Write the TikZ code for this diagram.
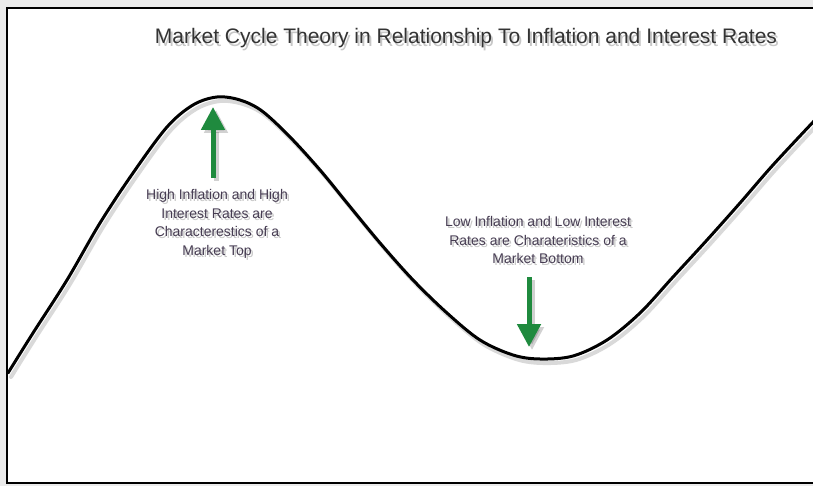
\documentclass[tikz,border=0pt]{standalone}
\usepackage{fontspec}
\setmainfont{Liberation Sans}
\usetikzlibrary{arrows.meta}
\definecolor{bggray}{HTML}{EBEBEB}
\definecolor{labelcol}{HTML}{463C52}
\definecolor{titlecol}{HTML}{333333}
\definecolor{arrowgreen}{HTML}{1F8A3E}
\begin{document}
\begin{tikzpicture}[x=1pt,y=-1pt,
  lbl/.style={align=center, font=\fontsize{14}{18.5}\selectfont, text=labelcol, inner sep=0pt},
  lblshadow/.style={lbl, text=black, opacity=0.22},
  ttl/.style={font=\fontsize{21}{25}\selectfont, text=titlecol, inner sep=0pt},
  ttlshadow/.style={ttl, text=black, opacity=0.22},
  greenarrow/.style={draw=arrowgreen, line width=5pt, -{Triangle[width=23pt,length=23pt,fill=arrowgreen]}},
  arrowshadow/.style={draw=black, opacity=0.18, line width=5pt, -{Triangle[width=23pt,length=23pt]}},
  curve/.style={line width=3pt, line join=round, line cap=round},
  curveshadow/.style={line width=4pt, draw=black, opacity=0.15, line cap=round},
  frameline/.style={line width=2.6pt, draw=black}
]
\useasboundingbox (0,0) rectangle (813,486);
\fill[bggray] (0,0) rectangle (813,486);
\fill[white] (7,8) rectangle (813,483);

\def\curvepts{(8,373) (33,333) (67,280) (100,223) (133,173) (167,127) (193,105) (217,97) (240,100) (262,111) (290,137) (320,170) (347,203) (380,243) (413,280) (447,313) (480,340) (513,355) (540,359) (573,356) (607,340) (640,313) (673,277) (707,240) (740,203) (773,165) (815,120)}

\begin{scope}
\clip (8,9) rectangle (813,482);
\draw[curveshadow, shift={(3,4)}] plot[smooth, tension=0.55] coordinates {\curvepts};
\draw[curve] plot[smooth, tension=0.55] coordinates {\curvepts};
\end{scope}

\draw[frameline] (820,8) -- (7,8) -- (7,483) -- (820,483);

% title
\node[ttlshadow] (titleshadow) at (468,41) {Market Cycle Theory in Relationship To Inflation and Interest Rates};
\node[ttl] (title) at (466,38) {Market Cycle Theory in Relationship To Inflation and Interest Rates};

% arrows
\coordinate (upstart) at (213,178);
\coordinate (uptip) at (213,107);
\coordinate (upstarts) at (216,181);
\coordinate (uptips) at (216,110);
\draw[arrowshadow] (upstarts) -- (uptips);
\draw[greenarrow] (upstart) -- (uptip);

\coordinate (downstart) at (529,277);
\coordinate (downtip) at (529,347);
\coordinate (downstarts) at (532,280);
\coordinate (downtips) at (532,350);
\draw[arrowshadow] (downstarts) -- (downtips);
\draw[greenarrow] (downstart) -- (downtip);

% labels
\node[lblshadow] (topshadow) at (219,226) {High Inflation and High\\Interest Rates are\\Characterestics of a\\Market Top};
\node[lbl] (toplabel) at (217,224) {High Inflation and High\\Interest Rates are\\Characterestics of a\\Market Top};

\node[lblshadow] (bottomshadow) at (540,242) {Low Inflation and Low Interest\\Rates are Charateristics of a\\Market Bottom};
\node[lbl] (bottomlabel) at (538,240) {Low Inflation and Low Interest\\Rates are Charateristics of a\\Market Bottom};
\end{tikzpicture}
\end{document}
